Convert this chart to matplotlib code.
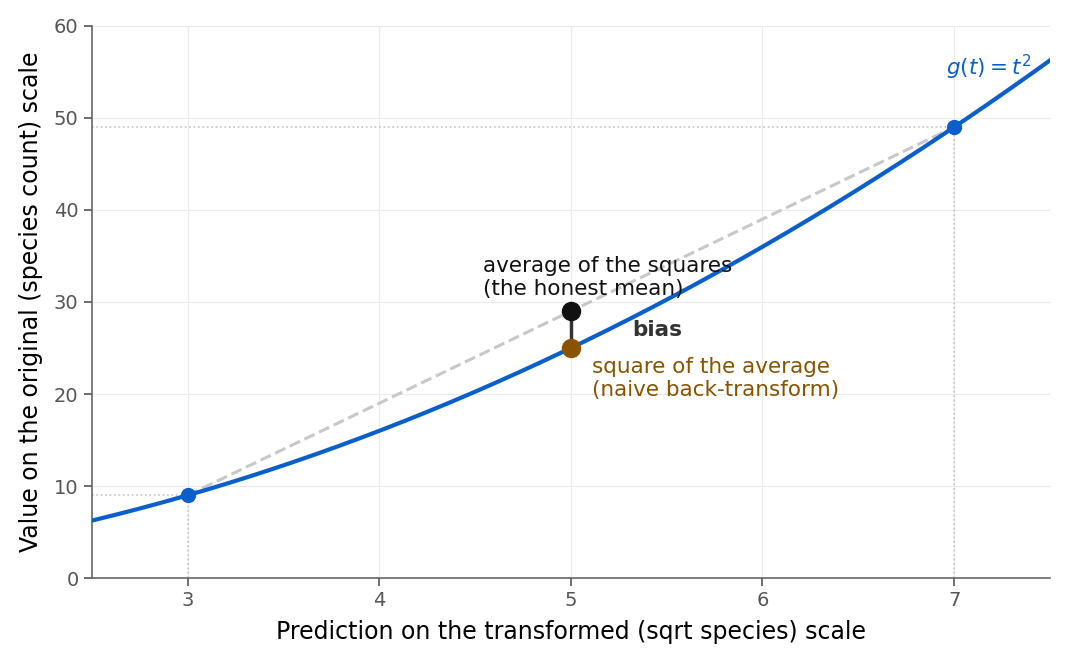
import numpy as np
import matplotlib.pyplot as plt

# transformed-scale points and their squares
t_lo, t_hi = 3, 7
t_mid = 5
honest_mean = 29          # average of the squares
naive_value = 25          # square of the average

blue = '#0b5fcc'
brown = '#8a5300'

t = np.linspace(2.5, 7.5, 300)

fig, ax = plt.subplots(figsize=(10.67, 6.63), dpi=100)

ax.grid(color='#ebebeb', linewidth=0.8)
ax.set_axisbelow(True)

# dotted guides to the end points
for tv in (t_lo, t_hi):
    ax.plot([2.5, tv], [tv ** 2, tv ** 2], linestyle=':', color='#c4c4c4', linewidth=1.2, zorder=1)
    ax.plot([tv, tv], [0, tv ** 2], linestyle=':', color='#c4c4c4', linewidth=1.2, zorder=1)

# chord between the two points
ax.plot([t_lo, t_hi], [t_lo ** 2, t_hi ** 2], linestyle='--', color='#c8c8cc', linewidth=2.2, zorder=2)

# the curve
ax.plot(t, t ** 2, color=blue, linewidth=3, zorder=3)
ax.plot([t_lo, t_hi], [t_lo ** 2, t_hi ** 2], 'o', color=blue, markersize=10, zorder=4)

# bias segment
ax.plot([t_mid, t_mid], [naive_value, honest_mean], color='#333333', linewidth=2.5, zorder=4)
ax.plot(t_mid, honest_mean, 'o', color='#111111', markersize=13, zorder=5)
ax.plot(t_mid, naive_value, 'o', color=brown, markersize=13, zorder=5)

ax.text(4.54, 30.3, 'average of the squares\n(the honest mean)', fontsize=15.5,
        color='#111111', ha='left', va='bottom', linespacing=1.2)
ax.text(5.32, 27.0, 'bias', fontsize=15.5, fontweight='bold', color='#333333',
        ha='left', va='center')
ax.text(5.11, 24.0, 'square of the average\n(naive back-transform)', fontsize=15.5,
        color=brown, ha='left', va='top', linespacing=1.2)
ax.text(6.96, 53.9, r'$g(t) = t^2$', fontsize=15.5, color=blue, ha='left', va='bottom')

ax.set_xlim(2.5, 7.5)
ax.set_ylim(0, 60)
ax.set_xticks([3, 4, 5, 6, 7])
ax.set_yticks([0, 10, 20, 30, 40, 50, 60])

ax.set_xlabel('Prediction on the transformed (sqrt species) scale', fontsize=17, labelpad=7)
ax.set_ylabel('Value on the original (species count) scale', fontsize=17, labelpad=8)

for side in ('top', 'right'):
    ax.spines[side].set_visible(False)
for side in ('left', 'bottom'):
    ax.spines[side].set_color('#666666')
    ax.spines[side].set_linewidth(1.2)
ax.tick_params(colors='#555555', labelsize=14, length=6, width=1.2)
for lab in ax.get_xticklabels() + ax.get_yticklabels():
    lab.set_color('#555555')

fig.subplots_adjust(left=0.086, right=0.984, top=0.961, bottom=0.128)
plt.savefig('out.png', dpi=100)
